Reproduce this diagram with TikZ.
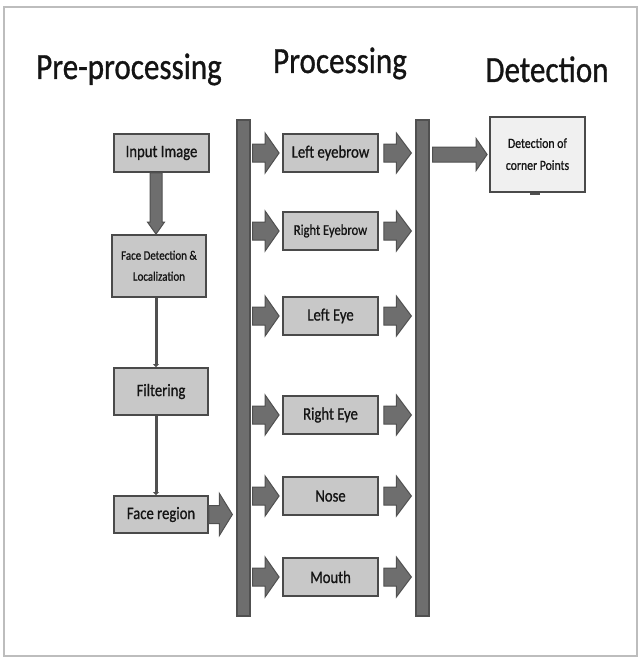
\documentclass[tikz,border=0pt]{standalone}
\usepackage{fontspec}
\setmainfont{Carlito}[FakeBold=0.9]
\usepackage{graphicx}
\usetikzlibrary{calc,arrows.meta}
\definecolor{boxfill}{HTML}{C8C8C8}
\definecolor{detfill}{HTML}{F0F0F0}
\definecolor{boxline}{HTML}{4A4A4A}
\definecolor{arrfill}{HTML}{6E6E6E}
\definecolor{arrline}{HTML}{505050}
\definecolor{txt}{HTML}{141414}
\definecolor{framec}{HTML}{BDBDBD}
\newcommand\sx[1]{\scalebox{0.84}[1]{#1}}
% horizontal block arrow: from, to, shaft half, head half, head length
\newcommand\harrow[5]{\draw[fatarr] let \p1=(#1), \p2=(#2) in
  (\x1,\y1-#3) -- (\x2-#5,\y1-#3) -- (\x2-#5,\y1-#4) -- (\x2,\y1) --
  (\x2-#5,\y1+#4) -- (\x2-#5,\y1+#3) -- (\x1,\y1+#3) -- cycle;}
% downward block arrow
\newcommand\varrow[5]{\draw[fatarr] let \p1=(#1), \p2=(#2) in
  (\x1-#3,\y1) -- (\x1-#3,\y2+#5) -- (\x1-#4,\y2+#5) -- (\x1,\y2) --
  (\x1+#4,\y2+#5) -- (\x1+#3,\y2+#5) -- (\x1+#3,\y1) -- cycle;}
\tikzset{
  fatarr/.style={fill=arrfill, draw=arrline, line width=1pt, line join=miter},
  pbox/.style={draw=boxline, fill=boxfill, line width=1.8pt, inner sep=0pt,
    minimum width=95pt, minimum height=38pt, text=txt,
    font=\fontsize{17.5}{20}\selectfont},
  bar/.style={draw=arrline, fill=arrfill, line width=1.2pt, inner sep=0pt,
    minimum width=13pt, minimum height=496pt},
  title/.style={anchor=base, text=txt, inner sep=0pt,
    font=\fontsize{37}{40}\selectfont},
  thin/.style={draw=arrline, line width=3pt,
    -{Triangle[length=3pt,width=6pt]}},
}
\begin{document}
\begin{tikzpicture}[x=1pt,y=-1pt]
\useasboundingbox (0,0) rectangle (641,658);
\draw[framec, line width=1.5pt] (4,7) rectangle (637,656);

% titles
\node[title] (t1) at (129,79) {\sx{Pre-processing}};
\node[title] (t2) at (340,73) {\sx{Processing}};
\node[title] (t3) at (547,82) {\sx{Detection}};

% bars
\node[bar] (lbar) at (243.5,368) {};
\node[bar] (rbar) at (422.5,368) {};

% pre-processing
\node[pbox] (inp) at (161.5,153) {\sx{Input Image}};
\node[pbox, minimum width=94pt, minimum height=62pt,
  font=\fontsize{13}{21}\selectfont] (fd) at (159,266)
  {\sx{\begin{tabular}{@{}c@{}}Face Detection \&\\Localization\end{tabular}}};
\node[pbox, minimum width=94pt, minimum height=47pt] (filt) at (161,391.5) {\sx{Filtering}};
\node[pbox, minimum width=94pt, minimum height=37pt] (face) at (161,514.5) {\sx{Face region}};

% processing
\node[pbox] (leb) at (330.5,153) {\sx{Left eyebrow}};
\node[pbox, font=\fontsize{15}{18}\selectfont] (reb) at (330.5,231) {\sx{Right Eyebrow}};
\node[pbox] (le) at (330.5,316) {\sx{Left Eye}};
\node[pbox] (re) at (330.5,415) {\sx{Right Eye}};
\node[pbox] (nose) at (330.5,496) {\sx{Nose}};
\node[pbox] (mouth) at (330.5,577) {\sx{Mouth}};

% detection
\node[pbox, fill=detfill, minimum height=75pt,
  font=\fontsize{14}{22}\selectfont] (det) at (537.5,154.5)
  {\sx{\begin{tabular}{@{}c@{}}Detection of\\corner Points\end{tabular}}};
\draw[arrline, line width=2pt] ([xshift=-7.5pt,yshift=-1.5pt]det.south) -- ([xshift=2.5pt,yshift=-1.5pt]det.south);

% pre-processing connectors
\varrow{[xshift=-5.5pt]inp.south}{[xshift=-5.5pt]fd.north}{6pt}{8.5pt}{12pt}
\draw[thin] ([xshift=-3pt]fd.south) -- ([xshift=-5pt]filt.north);
\draw[thin] ([xshift=-5pt]filt.south) -- ([xshift=-5pt]face.north);
\harrow{face.east}{[xshift=-4pt]lbar.west |- face.east}{9pt}{21pt}{13pt}

% processing arrows
\foreach \b in {leb,reb,le,re,nose,mouth}{
  \harrow{[xshift=2pt]lbar.east |- \b.west}{[xshift=-3pt]\b.west}{9pt}{20pt}{14pt}
  \harrow{[xshift=5pt]\b.east}{[xshift=-4pt]rbar.west |- \b.east}{9pt}{20pt}{15pt}
}

% detection arrow
\harrow{[xshift=3pt]rbar.east |- det.west}{[xshift=-2pt]det.west}{7.5pt}{16pt}{11pt}
\end{tikzpicture}
\end{document}
